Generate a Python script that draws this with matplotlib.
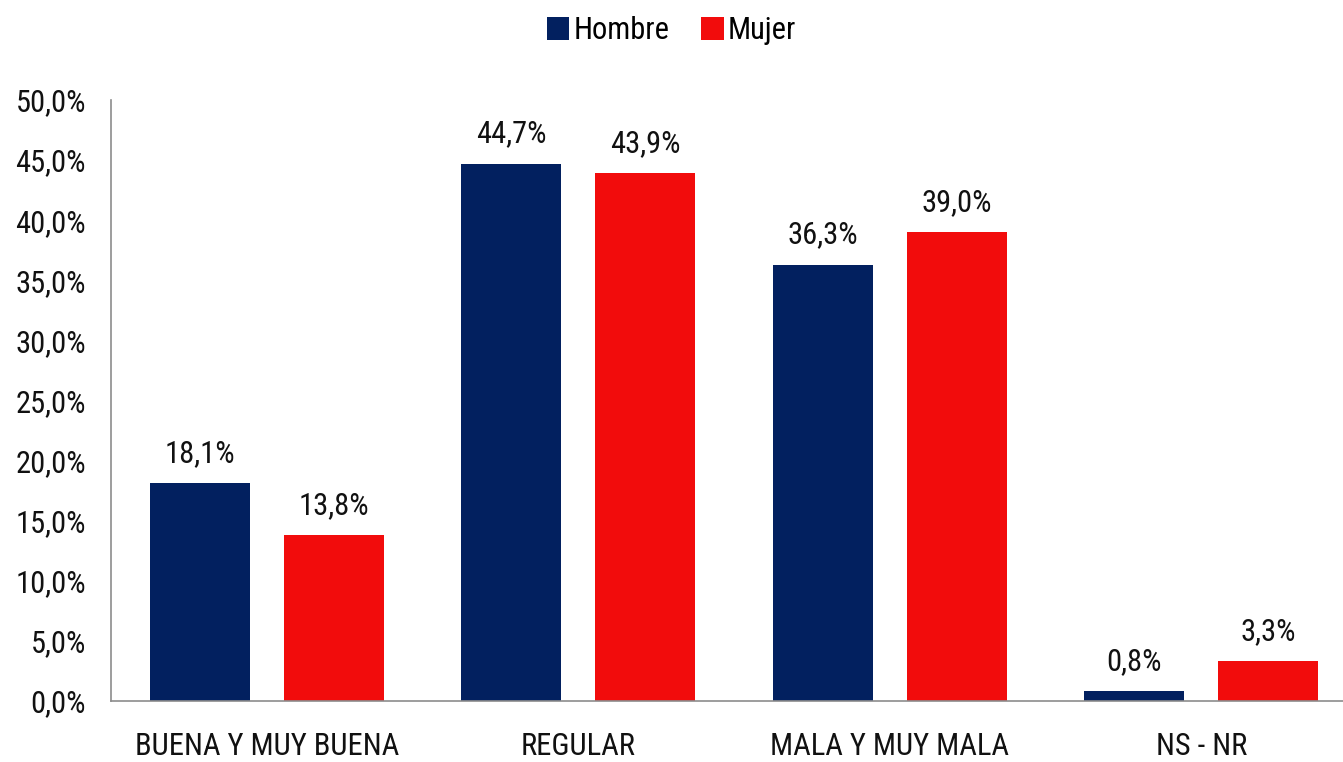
import numpy as np
import matplotlib.pyplot as plt
from matplotlib import font_manager as fm

categorias = ['BUENA Y MUY BUENA', 'REGULAR', 'MALA Y MUY MALA', 'NS - NR']
hombre = [18.1, 44.7, 36.3, 0.8]
mujer = [13.8, 43.9, 39.0, 3.3]
yticks = np.arange(0, 51, 5)

fams = set(f.name for f in fm.fontManager.ttflist)
fam = 'DejaVu Sans'
for cand in ['Roboto Condensed', 'Liberation Sans Narrow', 'DejaVu Sans Condensed', 'Open Sans Condensed']:
    if cand in fams:
        fam = cand
        break
plt.rcParams['font.family'] = [fam, 'DejaVu Sans']
fs = 22 if fam != 'DejaVu Sans' else 17

fig = plt.figure(figsize=(13.43, 7.62), dpi=100)
ax = fig.add_axes([111/1343, 61/762, 1246/1343, 601/762])

x = np.arange(len(categorias))
w = 0.321
off = 0.215
b1 = ax.bar(x - off, hombre, w, color='#02205F', label='Hombre')
b2 = ax.bar(x + off, mujer, w, color='#F20C0C', label='Mujer')

def fmt(v):
    return f'{v:.1f}%'.replace('.', ',')

for bars, vals in [(b1, hombre), (b2, mujer)]:
    for b, v in zip(bars, vals):
        ax.annotate(fmt(v), (b.get_x() + b.get_width()/2, v), xytext=(0, 11),
                    textcoords='offset points', ha='center', va='bottom',
                    fontsize=fs, color='#111111')

ax.set_xlim(-0.5, len(categorias) - 0.5)
ax.set_ylim(0, 50)
ax.set_yticks(yticks)
ax.set_yticklabels([f'{t:.1f}%'.replace('.', ',') for t in yticks], fontsize=fs, color='#111111')
ax.set_xticks(x)
ax.set_xticklabels(categorias, fontsize=fs, color='#111111')
ax.tick_params(axis='both', length=0)
ax.tick_params(axis='y', pad=18)
ax.tick_params(axis='x', pad=22)
for s in ['top', 'right']:
    ax.spines[s].set_visible(False)
for s in ['left', 'bottom']:
    ax.spines[s].set_color('#8C8C8C')
    ax.spines[s].set_linewidth(1.2)

fig.legend(loc='upper center', bbox_to_anchor=(0.5, 1.015), ncol=2, frameon=False,
           prop={'size': fs}, handlelength=0.75, handleheight=0.75,
           handletextpad=0.15, columnspacing=1.0)

fig.savefig('out.png', dpi=100)
